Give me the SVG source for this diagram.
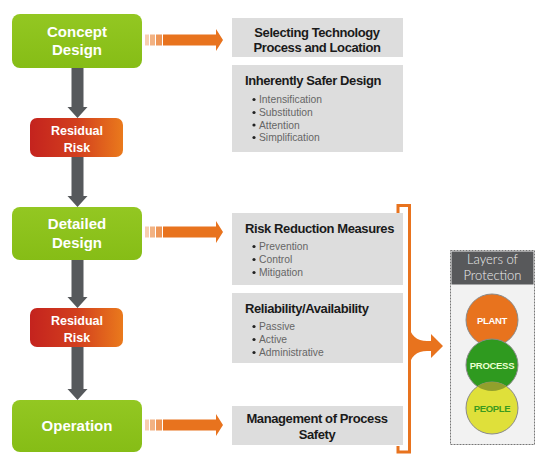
<svg xmlns="http://www.w3.org/2000/svg" width="540" height="459" viewBox="0 0 540 459">
<defs>
<linearGradient id="gGreen" x1="0" y1="0" x2="0" y2="1">
<stop offset="0" stop-color="#93c722"/>
<stop offset="1" stop-color="#86bd16"/>
</linearGradient>
<linearGradient id="gRed" x1="0" y1="0" x2="1" y2="0">
<stop offset="0" stop-color="#c4231e"/>
<stop offset="0.5" stop-color="#d23e1e"/>
<stop offset="1" stop-color="#ea7a1c"/>
</linearGradient>
<style>
.green{fill:url(#gGreen);}
.red{fill:url(#gRed);}
.nt{font-family:"Liberation Sans",Arial,sans-serif;font-weight:bold;fill:#fff;text-anchor:middle;}
.box{fill:#dddddd;}
.tt{font-family:"Liberation Sans",Arial,sans-serif;font-weight:bold;font-size:13px;letter-spacing:-0.4px;fill:#1a1a1a;}
.bl{font-family:"Liberation Sans",Arial,sans-serif;font-size:10.3px;fill:#666;}
.dot{fill:#222;}
.garrow{fill:#56595c;}
.oarrow{fill:#e8731e;}
.lp{font-family:"Liberation Sans",Arial,sans-serif;font-weight:bold;font-size:9.5px;text-anchor:middle;letter-spacing:-0.3px;}
.hd{font-family:Lato,"Open Sans","Liberation Sans",sans-serif;font-weight:300;font-size:13px;fill:#eeeeee;text-anchor:middle;}
</style>
</defs>
<rect width="540" height="459" fill="#ffffff"/>

<g id="connectors">
<path class="garrow" d="M71.5,68 H83.5 V107 H87.5 L77.5,118 L67.5,107 H71.5 Z"/>
<path class="garrow" d="M71.5,157 H83.5 V196 H87.5 L77.5,207 L67.5,196 H71.5 Z"/>
<path class="garrow" d="M71.5,260 H83.5 V297 H87.5 L77.5,308 L67.5,297 H71.5 Z"/>
<path class="garrow" d="M71.5,347 H83.5 V389 H87.5 L77.5,400 L67.5,389 H71.5 Z"/>
<g id="orange-arrow-1">
<rect class="oarrow" x="145" y="34.5" width="4" height="11" opacity="0.35"/>
<rect class="oarrow" x="150" y="34.5" width="5" height="11" opacity="0.55"/>
<rect class="oarrow" x="156" y="34.5" width="6" height="11" opacity="0.75"/>
<path class="oarrow" d="M163,34.5 H216 V29 L223,40 L216,51 V45.5 H163 Z"/>
</g>
<g id="orange-arrow-2">
<rect class="oarrow" x="145" y="226.5" width="4" height="11" opacity="0.35"/>
<rect class="oarrow" x="150" y="226.5" width="5" height="11" opacity="0.55"/>
<rect class="oarrow" x="156" y="226.5" width="6" height="11" opacity="0.75"/>
<path class="oarrow" d="M163,226.5 H216 V221 L223,232 L216,243 V237.5 H163 Z"/>
</g>
<g id="orange-arrow-3">
<rect class="oarrow" x="145" y="419.5" width="4" height="11" opacity="0.35"/>
<rect class="oarrow" x="150" y="419.5" width="5" height="11" opacity="0.55"/>
<rect class="oarrow" x="156" y="419.5" width="6" height="11" opacity="0.75"/>
<path class="oarrow" d="M163,419.5 H216 V414 L223,425 L216,436 V430.5 H163 Z"/>
</g>
<g id="bracket">
<path d="M398,213 V205.5 H409.5 V452 H398 V446" fill="none" stroke="#e8731e" stroke-width="3"/>
<path class="oarrow" d="M408,322 C410,336 417,341 427,341 L431,341 L431,334 L443,346 L431,358 L431,351 L427,351 C417,351 410,356 408,370 Z"/>
</g>
</g>

<g id="concept-design">
<rect class="green" x="12" y="14" width="130" height="54" rx="8"/>
<text class="nt" x="77" y="37" font-size="15">Concept</text>
<text class="nt" x="77" y="55" font-size="15">Design</text>
</g>
<g id="residual-risk-1">
<rect class="red" x="30" y="118" width="93" height="39" rx="7"/>
<text class="nt" x="77" y="134.5" font-size="12.5">Residual</text>
<text class="nt" x="77" y="151.5" font-size="12.5">Risk</text>
</g>
<g id="detailed-design">
<rect class="green" x="12" y="207" width="130" height="53" rx="8"/>
<text class="nt" x="77" y="228.5" font-size="15">Detailed</text>
<text class="nt" x="77" y="248" font-size="15">Design</text>
</g>
<g id="residual-risk-2">
<rect class="red" x="30" y="308" width="93" height="39" rx="7"/>
<text class="nt" x="77" y="324.5" font-size="12.5">Residual</text>
<text class="nt" x="77" y="341.5" font-size="12.5">Risk</text>
</g>
<g id="operation">
<rect class="green" x="12" y="400" width="130" height="52" rx="8"/>
<text class="nt" x="77" y="431" font-size="15">Operation</text>
</g>

<g id="selecting-technology">
<rect class="box" x="232" y="18" width="171" height="39"/>
<text class="tt" x="317" y="36.5" text-anchor="middle">Selecting Technology</text>
<text class="tt" x="317" y="52" text-anchor="middle">Process and Location</text>
</g>
<g id="inherently-safer">
<rect class="box" x="232" y="65" width="171" height="87"/>
<text class="tt" x="245" y="85">Inherently Safer Design</text>
<circle class="dot" cx="254" cy="99.5" r="1.6"/><text class="bl" x="259" y="103">Intensification</text>
<circle class="dot" cx="254" cy="112.5" r="1.6"/><text class="bl" x="259" y="116">Substitution</text>
<circle class="dot" cx="254" cy="125" r="1.6"/><text class="bl" x="259" y="128.5">Attention</text>
<circle class="dot" cx="254" cy="137.5" r="1.6"/><text class="bl" x="259" y="141">Simplification</text>
</g>
<g id="risk-reduction">
<rect class="box" x="232" y="213" width="171" height="72"/>
<text class="tt" x="245" y="233">Risk Reduction Measures</text>
<circle class="dot" cx="254" cy="246.5" r="1.6"/><text class="bl" x="259" y="250">Prevention</text>
<circle class="dot" cx="254" cy="259.5" r="1.6"/><text class="bl" x="259" y="263">Control</text>
<circle class="dot" cx="254" cy="272.5" r="1.6"/><text class="bl" x="259" y="276">Mitigation</text>
</g>
<g id="reliability">
<rect class="box" x="232" y="293" width="171" height="70"/>
<text class="tt" x="245" y="313">Reliability/Availability</text>
<circle class="dot" cx="254" cy="326.5" r="1.6"/><text class="bl" x="259" y="330">Passive</text>
<circle class="dot" cx="254" cy="339.5" r="1.6"/><text class="bl" x="259" y="343">Active</text>
<circle class="dot" cx="254" cy="352.5" r="1.6"/><text class="bl" x="259" y="356">Administrative</text>
</g>
<g id="management">
<rect class="box" x="232" y="406" width="171" height="39"/>
<text class="tt" x="317" y="423" text-anchor="middle">Management of Process</text>
<text class="tt" x="317" y="438.5" text-anchor="middle">Safety</text>
</g>

<g id="layers-of-protection">
<rect x="450.5" y="250.5" width="84" height="194" fill="#f2f2f2" stroke="#777" stroke-width="1" stroke-dasharray="2,1"/>
<rect x="451.5" y="251.5" width="82" height="33" fill="#58595b"/>
<text class="hd" x="492.5" y="264">Layers of</text>
<text class="hd" x="492.5" y="280">Protection</text>
<circle cx="492" cy="320" r="26" fill="#e8731e" stroke="#8a8a8a" stroke-width="1"/>
<circle cx="492" cy="365" r="26" fill="#2f9a1f" stroke="#8a8a8a" stroke-width="1"/>
<circle cx="492" cy="408" r="26" fill="#dfe03a" stroke="#8a8a8a" stroke-width="1"/>
<path d="M477.4,386.5 A26,26 0 0 1 506.6,386.5 A26,26 0 0 1 477.4,386.5 Z" fill="#92a02c"/>
<text class="lp" x="492" y="323.5" fill="#ffffff">PLANT</text>
<text class="lp" x="492" y="368.5" fill="#eaffd0">PROCESS</text>
<text class="lp" x="492" y="411.5" fill="#3a9a1e">PEOPLE</text>
</g>
</svg>
